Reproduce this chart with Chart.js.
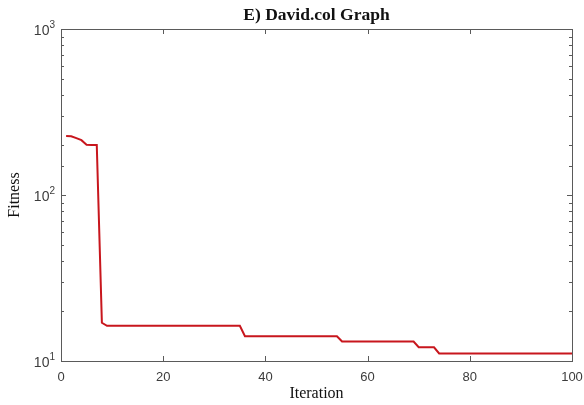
<!DOCTYPE html>
<html>
<head>
<meta charset="utf-8">
<script src="https://cdn.jsdelivr.net/npm/chart.js@4/dist/chart.umd.min.js"></script>
<style>
  html, body { margin: 0; padding: 0; background: #fff; }
  canvas { display: block; }
</style>
</head>
<body>
<canvas id="fitnessChart" width="584" height="405"></canvas>
<script>
// best fitness per iteration (only the points where the curve changes)
const iterations = [1, 2, 3, 4, 5, 6, 7, 8, 9, 35, 36, 54, 55, 69, 70, 73, 74, 100];
const fitness = [227, 226, 220, 214, 201, 200, 200, 17, 16.3, 16.3, 14.1, 14.1, 13.1, 13.1, 12.1, 12.1, 11.1, 11.1];

const xTicks = [0, 20, 40, 60, 80, 100];
const yDecades = [1, 2, 3];   // 10^1 .. 10^3

const chartTitle = 'E) David.col Graph';
const axisColor = '#5a5a5a';
const labelColor = '#3c3c3c';
const sansFont = '"Liberation Sans", Arial, sans-serif';
const serifFont = '"Liberation Serif", "Times New Roman", serif';

// matlab style frame with inward ticks, title and 10^n labels
const framePlugin = {
    id: 'frame',
    afterDraw(chart) {
        const ctx = chart.ctx;
        const area = chart.chartArea;
        const xs = chart.scales.x;
        const ys = chart.scales.y;
        ctx.save();
        ctx.strokeStyle = axisColor;
        ctx.lineWidth = 1;
        ctx.strokeRect(Math.round(area.left) + 0.5, Math.round(area.top) + 0.5,
            Math.round(area.right - area.left), Math.round(area.bottom - area.top));

        ctx.beginPath();
        xTicks.forEach(v => {
            const px = Math.round(xs.getPixelForValue(v)) + 0.5;
            ctx.moveTo(px, area.bottom);
            ctx.lineTo(px, area.bottom - 5);
            ctx.moveTo(px, area.top);
            ctx.lineTo(px, area.top + 5);
        });
        ys.ticks.forEach(t => {
            const py = Math.round(ys.getPixelForValue(t.value)) + 0.5;
            const major = Math.abs(Math.log10(t.value) - Math.round(Math.log10(t.value))) < 1e-6;
            const len = major ? 5 : 3;
            ctx.moveTo(area.left, py);
            ctx.lineTo(area.left + len, py);
            ctx.moveTo(area.right, py);
            ctx.lineTo(area.right - len, py);
        });
        ctx.stroke();

        // y labels as 10 with a raised exponent
        ctx.fillStyle = labelColor;
        ctx.textBaseline = 'alphabetic';
        yDecades.forEach(e => {
            const py = ys.getPixelForValue(Math.pow(10, e));
            const right = area.left - 6;
            ctx.font = '10px ' + sansFont;
            ctx.textAlign = 'right';
            const expW = ctx.measureText(String(e)).width;
            ctx.fillText(String(e), right, py - 1);
            ctx.font = '14px ' + sansFont;
            ctx.fillText('10', right - expW, py + 6);
        });

        ctx.fillStyle = '#111';
        ctx.font = 'bold 17.5px ' + serifFont;
        ctx.textAlign = 'center';
        ctx.textBaseline = 'middle';
        ctx.fillText(chartTitle, (area.left + area.right) / 2, 15);
        ctx.restore();
    }
};

const ctx = document.getElementById('fitnessChart').getContext('2d');
const fitnessChart = new Chart(ctx, {
    type: 'line',
    data: {
        datasets: [{
            data: iterations.map((it, i) => ({ x: it, y: fitness[i] })),
            borderColor: '#c8161d',
            borderWidth: 2,
            pointRadius: 0,
            tension: 0,
            fill: false
        }]
    },
    options: {
        responsive: false,
        animation: false,
        layout: { padding: { top: 29, right: 12, left: 0, bottom: 0 } },
        plugins: {
            legend: { display: false },
            tooltip: { enabled: false },
            title: { display: false }
        },
        scales: {
            x: {
                type: 'linear',
                min: 0,
                max: 100,
                grid: { display: false, drawTicks: false },
                border: { display: false },
                ticks: {
                    stepSize: 20,
                    padding: 9,
                    color: labelColor,
                    font: { family: sansFont, size: 13 }
                },
                title: {
                    display: true,
                    text: 'Iteration',
                    color: '#111',
                    padding: { top: 0, bottom: 2 },
                    font: { family: serifFont, size: 16 }
                },
                afterFit(scale) {
                    scale.height = 44;
                    scale.paddingLeft = 0;
                    scale.paddingRight = 0;
                }
            },
            y: {
                type: 'logarithmic',
                min: 10,
                max: 1000,
                grid: { display: false, drawTicks: false },
                border: { display: false },
                ticks: {
                    autoSkip: false,
                    callback: () => ''
                },
                title: {
                    display: true,
                    text: 'Fitness',
                    color: '#111',
                    padding: { top: 5, bottom: 0 },
                    font: { family: serifFont, size: 16 }
                },
                afterFit(scale) {
                    scale.width = 61;
                    scale.paddingTop = 0;
                    scale.paddingBottom = 0;
                }
            }
        }
    },
    plugins: [framePlugin]
});
</script>
</body>
</html>
